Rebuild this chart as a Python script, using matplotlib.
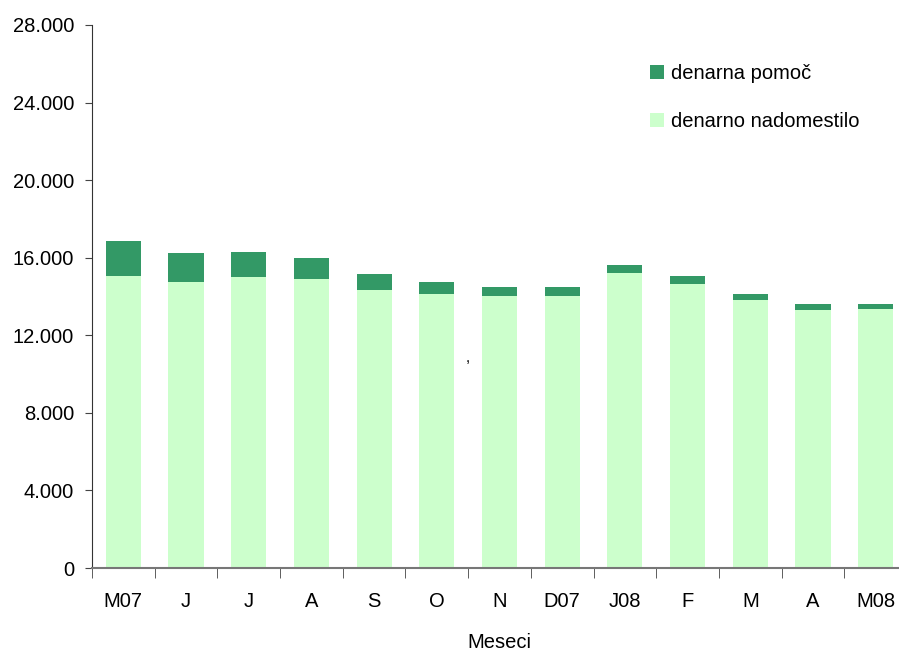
import numpy as np
import matplotlib.pyplot as plt
from matplotlib.ticker import FuncFormatter, FixedLocator

plt.rcParams['font.family'] = ['Liberation Sans', 'DejaVu Sans']

# monthly values
meseci = ['M07', 'J', 'J', 'A', 'S', 'O', 'N', 'D07', 'J08', 'F', 'M', 'A', 'M08']
nadomestilo = [15060, 14750, 15010, 14900, 14340, 14130, 14030, 14030, 15210, 14650, 13820, 13310, 13360]
pomoc = [1800, 1500, 1290, 1090, 820, 620, 460, 460, 420, 410, 310, 310, 260]

dark = '#339966'
light = '#ccffcc'
fs = 14.5

fig = plt.figure(figsize=(8.99, 6.53), dpi=100)
ax = fig.add_axes([92 / 899, (653 - 568) / 653, 815 / 899, 543 / 653])

x = np.arange(len(meseci))
b1 = ax.bar(x, nadomestilo, 0.56, color=light, label='denarno nadomestilo')
b2 = ax.bar(x, pomoc, 0.56, bottom=nadomestilo, color=dark, label='denarna pomoč')

ax.set_xlim(-0.5, len(meseci) - 0.5)
ax.set_ylim(0, 28000)
ax.set_yticks(np.arange(0, 28001, 4000))
ax.yaxis.set_major_formatter(FuncFormatter(lambda v, p: f'{int(v):,}'.replace(',', '.')))

# category labels between boundary ticks
ax.set_xticks(x)
ax.set_xticklabels(meseci)
ax.tick_params(axis='x', length=0, pad=17, labelsize=fs)
ax.xaxis.set_minor_locator(FixedLocator(np.arange(-0.5, len(meseci), 1)))
ax.tick_params(axis='x', which='minor', length=7, color='#444444')
ax.tick_params(axis='y', length=5, color='#444444', labelsize=fs, pad=8)

for s in ['top', 'right']:
    ax.spines[s].set_visible(False)
ax.spines['left'].set_color('#333333')
ax.spines['bottom'].set_color('#777777')
ax.spines['bottom'].set_linewidth(1.5)

ax.set_xlabel('Meseci', fontsize=fs, labelpad=16)

leg = ax.legend(handles=[b2, b1], loc='upper left', bbox_to_anchor=(0.662, 0.962),
                frameon=False, fontsize=fs, handlelength=0.7, handleheight=0.7,
                handletextpad=0.35, labelspacing=1.45)

fig.text(468 / 899, 1 - 358 / 653, ',', fontsize=11, ha='center', va='center')

fig.savefig('out.png', dpi=100)
